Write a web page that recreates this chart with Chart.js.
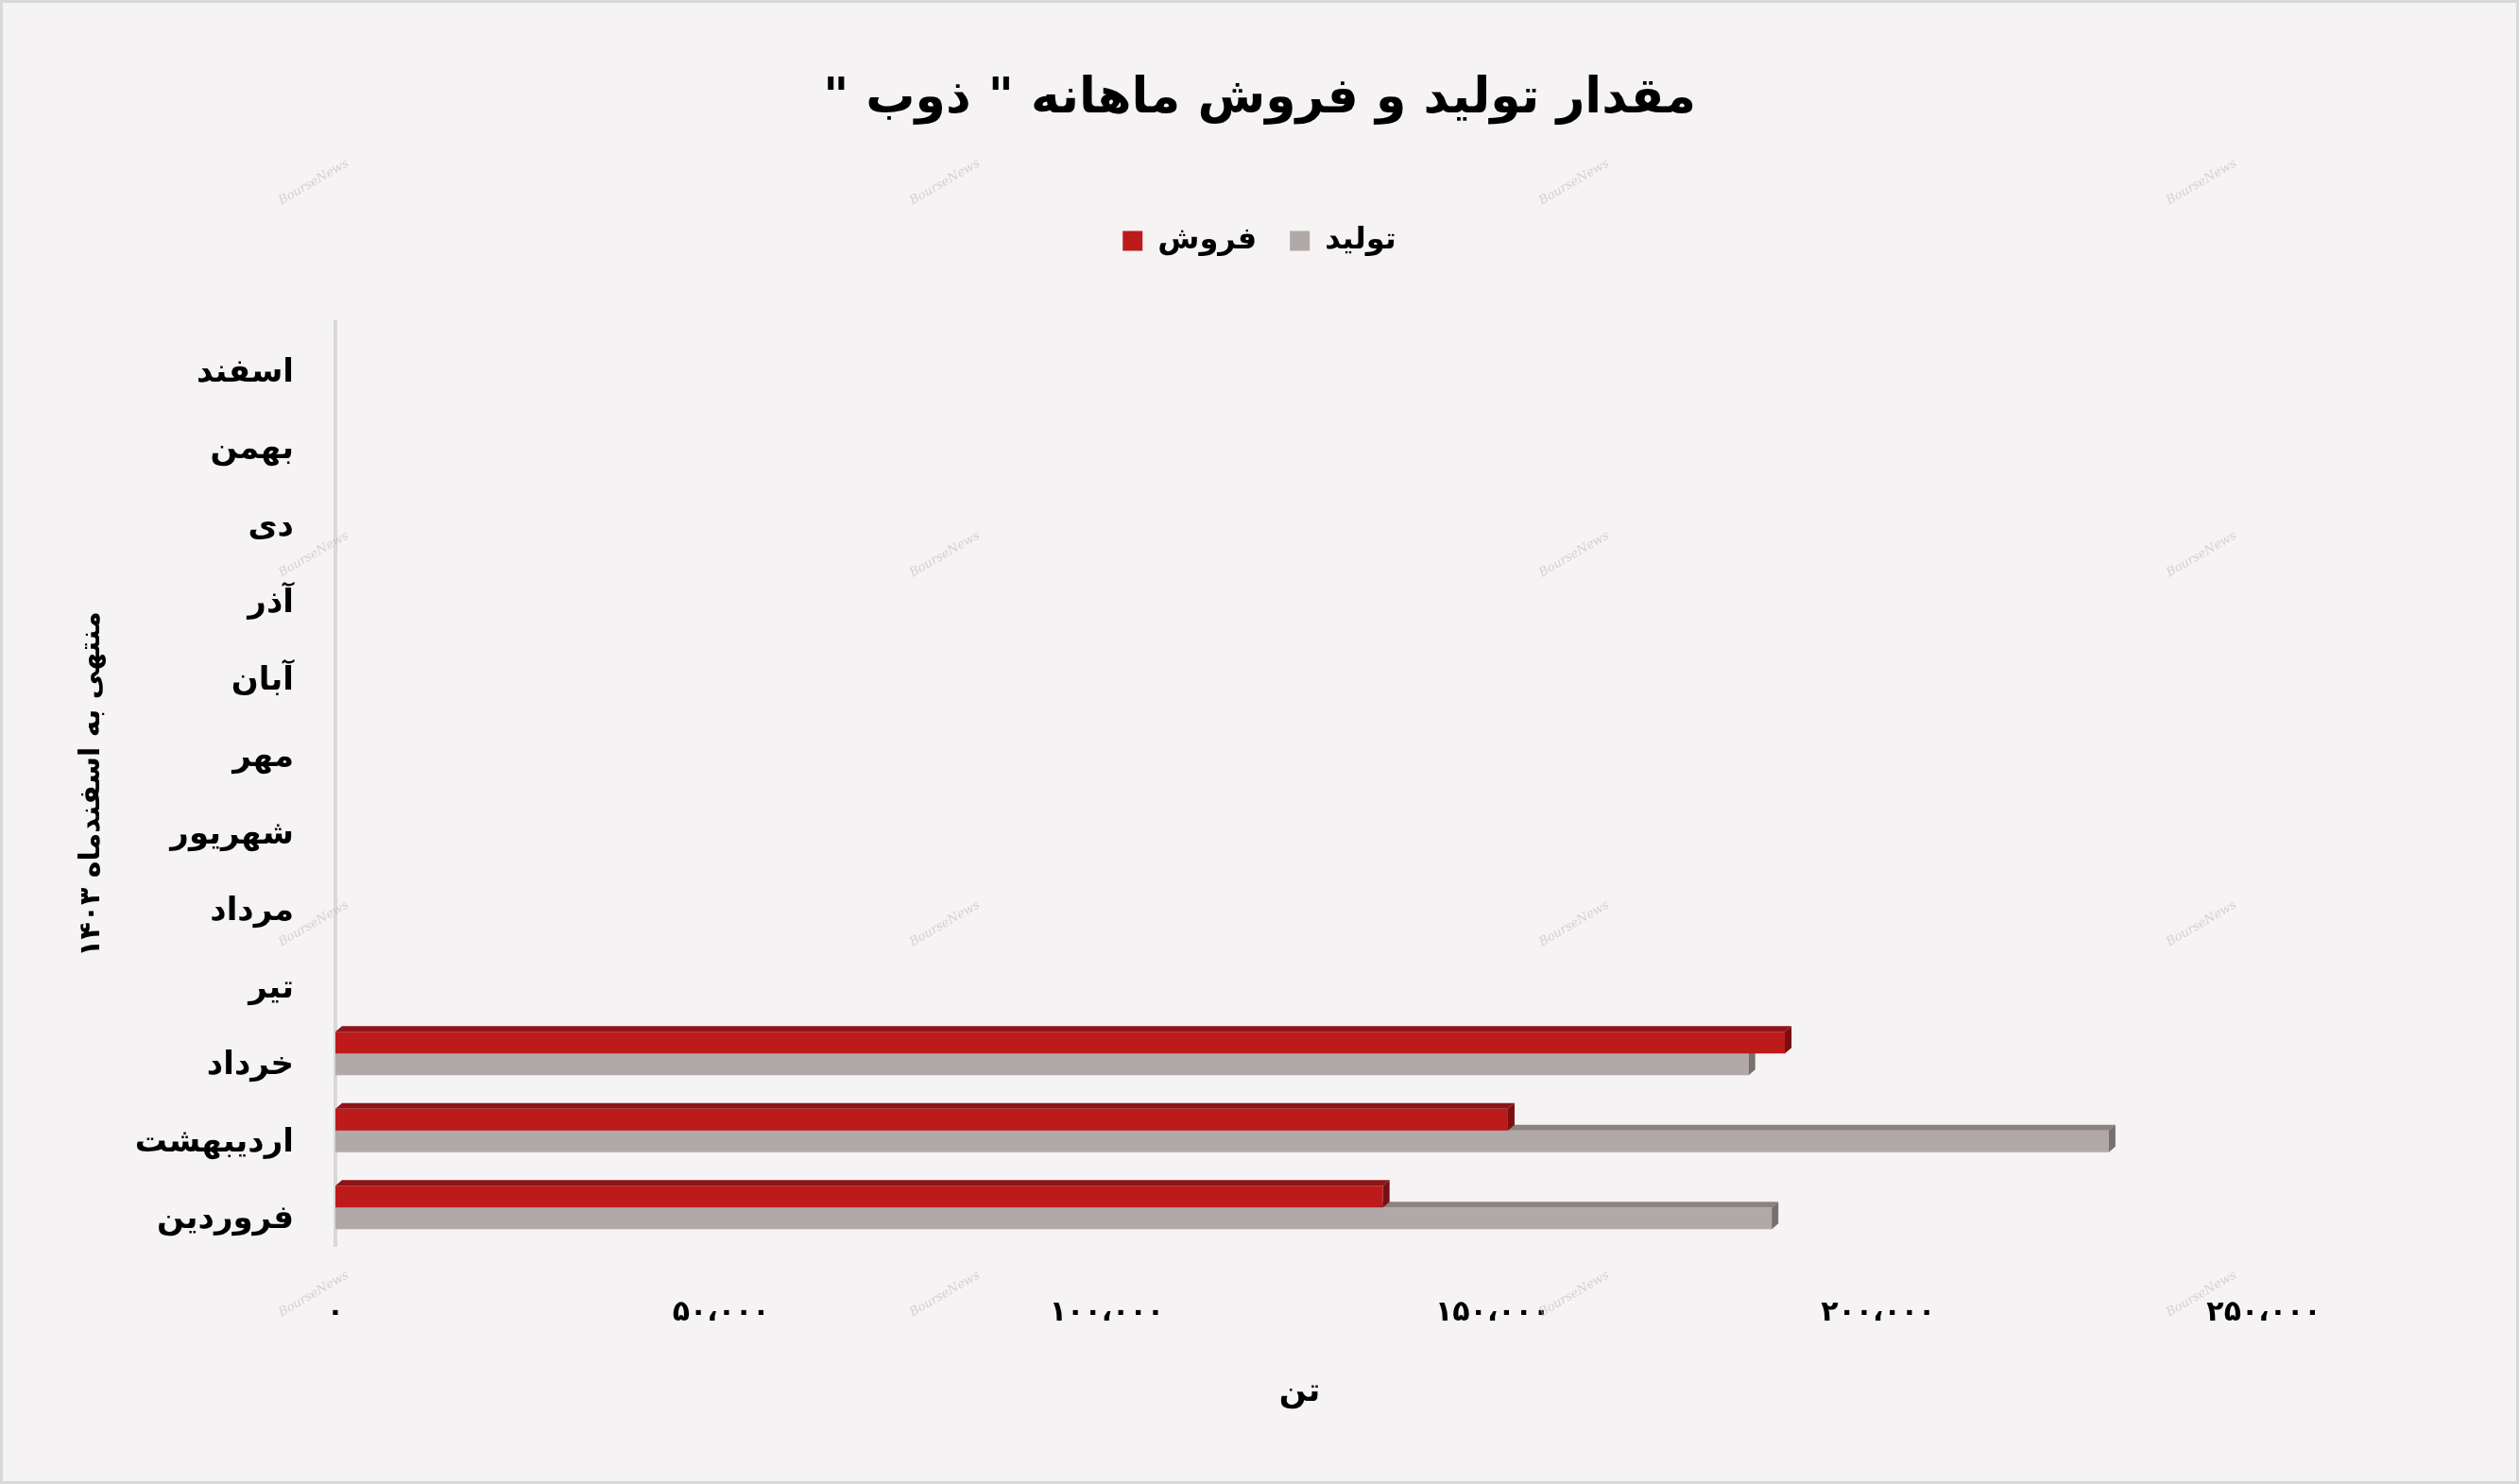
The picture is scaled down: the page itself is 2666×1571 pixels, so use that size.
<!DOCTYPE html>
<html>
<head>
<meta charset="utf-8">
<script src="https://cdn.jsdelivr.net/npm/chart.js@4.4.1/dist/chart.umd.min.js"></script>
<style>
  html, body { margin: 0; padding: 0; background: #f5f3f4; overflow: hidden; }
  canvas { display: block; }
</style>
</head>
<body>
<canvas id="c" width="2666" height="1571" dir="rtl"></canvas>
<script>
// ---- data (top-to-bottom order as shown on the chart) ----
const months = ['اسفند', 'بهمن', 'دی', 'آذر', 'آبان', 'مهر', 'شهریور', 'مرداد', 'تیر', 'خرداد', 'اردیبهشت', 'فروردین'];
const salesValues = [null, null, null, null, null, null, null, null, null, 187900, 152000, 135800];      // فروش
const productionValues = [null, null, null, null, null, null, null, null, null, 183200, 229900, 186200]; // تولید
const xTickLabels = ['۰', '۵۰،۰۰۰', '۱۰۰،۰۰۰', '۱۵۰،۰۰۰', '۲۰۰،۰۰۰', '۲۵۰،۰۰۰'];
const chartTitle = 'مقدار تولید و فروش ماهانه " ذوب "';
const xTitle = 'تن';
const yTitle = 'منتهی به اسفندماه ۱۴۰۳';
const seriesNames = ['فروش', 'تولید'];

const FONT = "'DejaVu Sans', sans-serif";

const faces = [
  { top: '#8e1418', side: '#7a0f12' },
  { top: '#8a8380', side: '#767170' }
];

const backgroundPlugin = {
  id: 'bg',
  beforeDraw(chart) {
    const { ctx, width, height } = chart;
    ctx.save();
    ctx.fillStyle = '#f5f3f4';
    ctx.fillRect(0, 0, width, height);
    ctx.strokeStyle = '#d9d9d9';
    ctx.lineWidth = 6;
    ctx.strokeRect(0, 0, width, height);
    ctx.restore();
  }
};

const watermarkPlugin = {
  id: 'watermark',
  beforeDatasetsDraw(chart) {
    const { ctx } = chart;
    const xs = [332, 1000, 1666, 2330];
    const ys = [193, 587, 978, 1370];
    ctx.save();
    ctx.fillStyle = 'rgba(190,184,186,0.6)';
    ctx.font = "italic 13px 'DejaVu Serif', serif";
    ctx.textAlign = 'center';
    ctx.textBaseline = 'middle';
    ctx.direction = 'ltr';
    ys.forEach(y => xs.forEach(x => {
      ctx.save();
      ctx.translate(x, y);
      ctx.rotate(-30 * Math.PI / 180);
      ctx.fillText('BourseNews', 0, 0);
      ctx.restore();
    }));
    ctx.restore();
  }
};

const bar3dPlugin = {
  id: 'bar3d',
  afterDatasetDraw(chart, args) {
    const { ctx } = chart;
    const meta = args.meta;
    const f = faces[args.index];
    const dx = 7, dy = 6;
    ctx.save();
    meta.data.forEach(el => {
      if (el.skip || el.x == null || isNaN(el.x)) return;
      const p = el.getProps(['x', 'y', 'base', 'height'], true);
      if (p.x === p.base) return;
      const top = p.y - p.height / 2;
      const bottom = p.y + p.height / 2;
      ctx.fillStyle = f.top;
      ctx.beginPath();
      ctx.moveTo(p.base, top);
      ctx.lineTo(p.base + dx, top - dy);
      ctx.lineTo(p.x + dx, top - dy);
      ctx.lineTo(p.x, top);
      ctx.closePath();
      ctx.fill();
      ctx.fillStyle = f.side;
      ctx.beginPath();
      ctx.moveTo(p.x, top);
      ctx.lineTo(p.x + dx, top - dy);
      ctx.lineTo(p.x + dx, bottom - dy);
      ctx.lineTo(p.x, bottom);
      ctx.closePath();
      ctx.fill();
    });
    ctx.restore();
  }
};

new Chart(document.getElementById('c'), {
  type: 'bar',
  data: {
    labels: months,
    datasets: [
      { label: seriesNames[0], data: salesValues, backgroundColor: '#bd1a1c', borderWidth: 0 },
      { label: seriesNames[1], data: productionValues, backgroundColor: '#b1a9a8', borderWidth: 0 }
    ]
  },
  options: {
    indexAxis: 'y',
    responsive: false,
    animation: false,
    categoryPercentage: 0.565,
    barPercentage: 1.0,
    layout: { padding: 0 },
    plugins: {
      title: {
        display: true,
        text: chartTitle,
        color: '#000000',
        font: { family: FONT, size: 52, weight: 'bold', lineHeight: 1.2 },
        padding: { top: 74, bottom: 67.6 }
      },
      legend: {
        display: true,
        position: 'top',
        labels: {
          color: '#000000',
          boxWidth: 21,
          boxHeight: 21,
          padding: 35,
          font: { family: FONT, size: 32, weight: 'bold' }
        }
      },
      subtitle: {
        display: true,
        text: '',
        weight: 500,
        position: 'top',
        font: { family: FONT, size: 10, lineHeight: 1 },
        padding: { top: 0, bottom: 50 }
      },
      tooltip: { enabled: false }
    },
    scales: {
      x: {
        type: 'linear',
        min: 0,
        max: 250000,
        grid: { display: false, drawTicks: false },
        border: { display: false },
        ticks: {
          stepSize: 50000,
          padding: 53,
          color: '#000000',
          font: { family: FONT, size: 30, weight: 'bold', lineHeight: 1.2 },
          callback: (v, i) => xTickLabels[i]
        },
        title: {
          display: true,
          text: xTitle,
          color: '#000000',
          font: { family: FONT, size: 34, weight: 'bold', lineHeight: 1.2 },
          padding: { top: 0, bottom: 76 }
        },
        afterFit(s) { s.height = 252; }
      },
      y: {
        grid: { display: false, drawTicks: false },
        border: { display: true, color: '#d9d9d9', width: 4 },
        ticks: {
          padding: 44,
          labelOffset: 13,
          color: '#000000',
          font: { family: FONT, size: 34, weight: 'bold', lineHeight: 1.2 }
        },
        title: {
          display: true,
          text: yTitle,
          color: '#000000',
          font: { family: FONT, size: 30, weight: 'bold', lineHeight: 1.2 },
          padding: { top: 79, bottom: 0 }
        },
        afterFit(s) { s.width = 355; }
      },
      rightSpace: {
        type: 'linear',
        axis: 'y',
        position: 'right',
        display: true,
        grid: { display: false, drawTicks: false },
        border: { display: false },
        ticks: { display: false },
        afterFit(s) { s.width = 270; }
      }
    }
  },
  plugins: [backgroundPlugin, watermarkPlugin, bar3dPlugin]
});
</script>
</body>
</html>
